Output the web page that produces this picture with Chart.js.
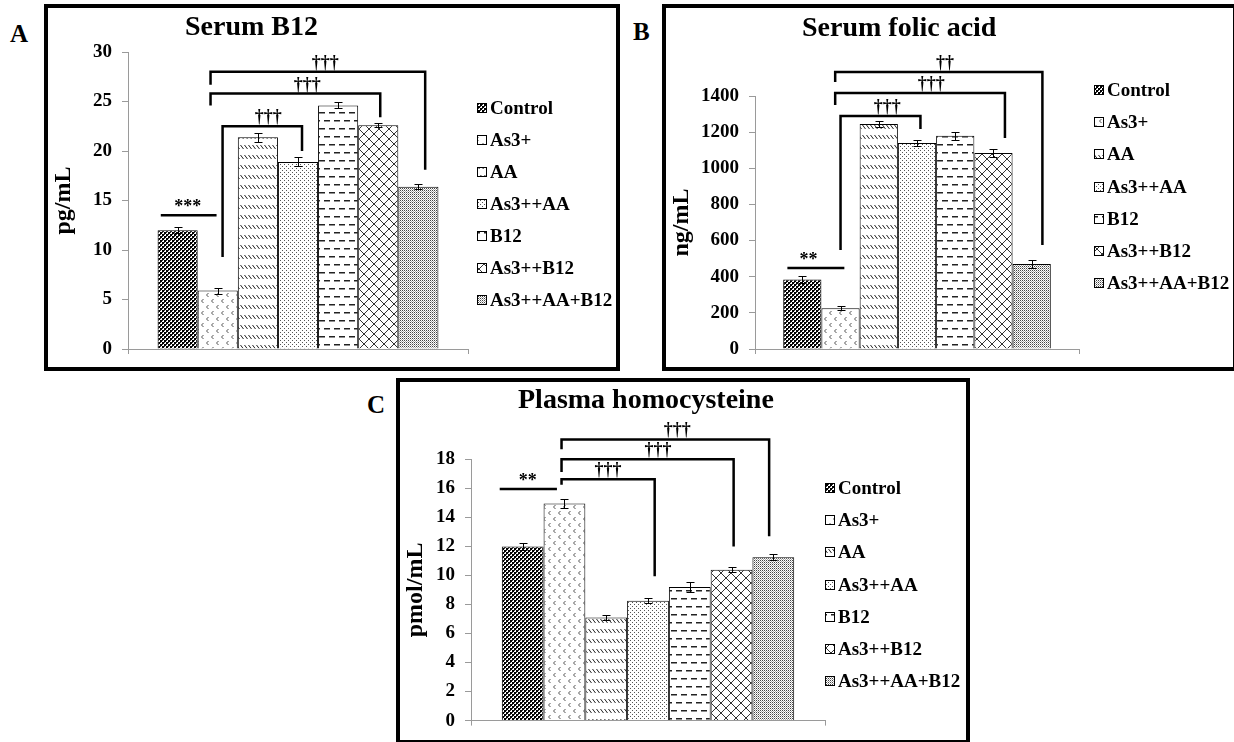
<!DOCTYPE html>
<html><head><meta charset="utf-8">
<script src="https://cdn.jsdelivr.net/npm/chart.js@4.4.0/dist/chart.umd.min.js"></script>
<style>
html,body{margin:0;padding:0;background:#fff;width:1234px;height:742px;overflow:hidden;position:relative;}
.frame{position:absolute;border:4px solid #000;box-sizing:border-box;pointer-events:none;}
.txt{position:absolute;font-family:"Liberation Serif","Times New Roman",serif;font-weight:bold;color:#000;white-space:nowrap;line-height:1;}
canvas{position:absolute;}
</style></head><body>
<canvas id="cA"></canvas><canvas id="cB"></canvas><canvas id="cC"></canvas>
<div class="frame" style="left:44px;top:4px;width:576px;height:367px"></div>
<div class="frame" style="left:662px;top:4px;width:575px;height:367px"></div>
<div class="frame" style="left:396px;top:378px;width:574px;height:366px"></div>
<div class="txt" style="left:10px;top:21px;font-size:25px">A</div>
<div class="txt" style="left:633px;top:19px;font-size:25px">B</div>
<div class="txt" style="left:367px;top:392px;font-size:25px">C</div>
<div class="txt" style="left:185px;top:12px;font-size:28px">Serum B12</div>
<div class="txt" style="left:802px;top:13px;font-size:28px">Serum folic acid</div>
<div class="txt" style="left:518px;top:385px;font-size:28px">Plasma homocysteine</div>
<script>
// ---------- data ----------
const groups = ['Control', 'As3+', 'AA', 'As3++AA', 'B12', 'As3++B12', 'As3++AA+B12'];
const b12Mean = [12.0, 5.9, 21.4, 18.9, 24.6, 22.6, 16.4];
const b12Err = [0.3, 0.3, 0.45, 0.45, 0.3, 0.2, 0.25];
const folicMean = [385, 225, 1245, 1140, 1180, 1085, 470];
const folicErr = [21, 11, 18, 14, 23, 22, 23];
const hcyMean = [12.0, 14.95, 7.1, 8.25, 9.2, 10.4, 11.25];
const hcyErr = [0.26, 0.31, 0.19, 0.17, 0.33, 0.18, 0.2];
// significance marks: positions in bar units (0 = first bar), heights in data units
const b12Notes = [
  {kind: 'line', from: -0.42, to: 0.97, at: 13.5, text: '***', textAt: 0.25},
  {kind: 'bracket', from: 1.12, fromEnd: 9.3, to: 3.1, toEnd: 20.0, top: 22.5, text: '†††', textAt: 2.26},
  {kind: 'bracket', from: 0.82, fromEnd: 24.6, to: 5.05, toEnd: 23.4, top: 25.8, text: '†††', textAt: 3.23},
  {kind: 'bracket', from: 0.82, fromEnd: 26.7, to: 6.17, toEnd: 18.1, top: 28.0, text: '†††', textAt: 3.68}
];
const folicNotes = [
  {kind: 'line', from: -0.39, to: 1.1, at: 448, text: '**', textAt: 0.16},
  {kind: 'bracket', from: 1.0, fromEnd: 548, to: 3.09, toEnd: 1217, top: 1290, text: '†††', textAt: 2.22},
  {kind: 'bracket', from: 0.86, fromEnd: 1350, to: 5.3, toEnd: 1168, top: 1417, text: '†††', textAt: 3.37},
  {kind: 'bracket', from: 0.86, fromEnd: 1478, to: 6.28, toEnd: 575, top: 1533, text: '††', textAt: 3.73}
];
const hcyNotes = [
  {kind: 'line', from: -0.55, to: 0.82, at: 15.95, text: '**', textAt: 0.12},
  {kind: 'bracket', from: 0.93, fromEnd: 16.24, to: 3.16, toEnd: 9.95, top: 16.63, text: '†††', textAt: 2.04},
  {kind: 'bracket', from: 0.93, fromEnd: 17.13, to: 5.05, toEnd: 12.0, top: 18.0, text: '†††', textAt: 3.24},
  {kind: 'bracket', from: 0.93, fromEnd: 18.7, to: 5.9, toEnd: 12.7, top: 19.37, text: '†††', textAt: 3.7}
];

// ---------- pattern tiles ----------
function tile(w, h, draw) {
  const c = document.createElement('canvas'); c.width = w; c.height = h;
  const g = c.getContext('2d'); g.fillStyle = '#fff'; g.fillRect(0, 0, w, h); draw(g); return c;
}
const tiles = [
  tile(4, 4, g => { g.fillStyle = '#000'; g.fillRect(0, 0, 2, 2); g.fillRect(2, 2, 2, 2); g.fillStyle = '#333'; g.fillRect(2, 0, 1, 1); g.fillRect(0, 2, 1, 1); }),
  tile(10, 12, g => { g.strokeStyle = '#555'; g.lineWidth = 1; g.beginPath();
    g.moveTo(4.5, 1); g.lineTo(2.5, 3); g.lineTo(4.5, 5);
    g.moveTo(9.5, 7); g.lineTo(7.5, 9); g.lineTo(9.5, 11); g.stroke(); }),
  tile(4, 10, g => { g.strokeStyle = '#222'; g.lineWidth = 1; g.beginPath(); g.moveTo(0.5, 1); g.lineTo(3.5, 5); g.stroke(); }),
  tile(4, 4, g => { g.fillStyle = '#555'; g.fillRect(0, 0, 1, 1); g.fillRect(2, 2, 1, 1); }),
  tile(10, 16, g => { g.fillStyle = '#222'; g.fillRect(0, 4, 6, 1.5); g.fillRect(5, 12, 5, 1.5); g.fillRect(0, 12, 1, 1.5); }),
  tile(10, 10, g => { g.strokeStyle = '#333'; g.lineWidth = 1; g.beginPath();
    g.moveTo(0, 0); g.lineTo(10, 10); g.moveTo(10, 0); g.lineTo(0, 10); g.stroke(); }),
  tile(2, 2, g => { g.fillStyle = '#444'; g.fillRect(0, 0, 1, 1); g.fillStyle = '#aaa'; g.fillRect(1, 1, 1, 1); })
];

const FONT = '"Liberation Serif", "Times New Roman", serif';

const extras = {
  id: 'extras',
  afterDatasetsDraw(chart, args, opts) {
    const ctx = chart.ctx, ys = chart.scales.y;
    ctx.save(); ctx.strokeStyle = '#000'; ctx.lineWidth = 1;
    chart.data.datasets.forEach((ds, i) => {
      const bar = chart.getDatasetMeta(i).data[0];
      const v = ds.data[0], e = opts.errors[i];
      const x = Math.round(bar.x) + 0.5;
      const t = Math.round(ys.getPixelForValue(v + e)) + 0.5, b = Math.round(ys.getPixelForValue(v - e)) + 0.5;
      ctx.beginPath();
      ctx.moveTo(x, t); ctx.lineTo(x, b);
      ctx.moveTo(x - 4, t); ctx.lineTo(x + 4, t);
      ctx.moveTo(x - 4, b); ctx.lineTo(x + 4, b);
      ctx.stroke();
    });
    ctx.restore();
  },
  afterDraw(chart, args, opts) {
    const ctx = chart.ctx, ys = chart.scales.y;
    const b0 = chart.getDatasetMeta(0).data[0], b1 = chart.getDatasetMeta(1).data[0];
    const px = k => b0.x + k * (b1.x - b0.x);
    const py = v => ys.getPixelForValue(v);
    ctx.save();
    ctx.strokeStyle = '#000'; ctx.lineWidth = 2.5; ctx.lineJoin = 'miter'; ctx.lineCap = 'butt';
    ctx.fillStyle = '#000'; ctx.textAlign = 'center'; ctx.textBaseline = 'alphabetic';
    ctx.font = 'bold 18px ' + FONT;
    opts.notes.forEach(n => {
      ctx.beginPath();
      if (n.kind === 'line') {
        ctx.moveTo(px(n.from), py(n.at)); ctx.lineTo(px(n.to), py(n.at)); ctx.stroke();
        ctx.fillText(n.text, px(n.textAt), py(n.at) - 3);
      } else {
        ctx.moveTo(px(n.from), py(n.fromEnd)); ctx.lineTo(px(n.from), py(n.top));
        ctx.lineTo(px(n.to), py(n.top)); ctx.lineTo(px(n.to), py(n.toEnd)); ctx.stroke();
        ctx.fillText(n.text, px(n.textAt), py(n.top) - 4);
      }
    });
    // legend
    const L = opts.legend;
    ctx.font = 'bold 19px ' + FONT; ctx.textAlign = 'left'; ctx.textBaseline = 'middle';
    chart.data.datasets.forEach((ds, i) => {
      const yy = Math.round(L.y + i * L.dy);
      ctx.fillStyle = ds.backgroundColor; ctx.fillRect(L.x - 13, yy - 5, 10, 10);
      ctx.lineWidth = 1; ctx.strokeStyle = '#000'; ctx.strokeRect(L.x - 12.5, yy - 4.5, 9, 9);
      ctx.fillStyle = '#000'; ctx.fillText(ds.label, L.x, yy + 1);
    });
    ctx.restore();
  }
};

function build(id, box, area, values, errors, notes, max, step, yTitle, legendPos) {
  const cv = document.getElementById(id);
  cv.width = box[2]; cv.height = box[3];
  cv.style.left = box[0] + 'px'; cv.style.top = box[1] + 'px';
  cv.style.width = box[2] + 'px'; cv.style.height = box[3] + 'px';
  const ctx = cv.getContext('2d');
  const yw = area[0] - box[0];
  const xh = box[1] + box[3] - area[3];
  const padTop = area[1] - box[1];
  const padRight = box[0] + box[2] - area[2];
  const datasets = groups.map((g, i) => ({
    label: g, data: [values[i]],
    backgroundColor: ctx.createPattern(tiles[i], 'repeat'),
    borderColor: '#000', borderWidth: 1,
    barPercentage: 1, categoryPercentage: 0.826
  }));
  return new Chart(ctx, {
    type: 'bar',
    data: {labels: [''], datasets},
    plugins: [extras],
    options: {
      responsive: false, animation: false, devicePixelRatio: 1,
      layout: {padding: {top: padTop, right: padRight, left: 0, bottom: 0}},
      plugins: {
        legend: {display: false}, tooltip: {enabled: false}, title: {display: false},
        extras: {errors, notes, legend: {x: legendPos[0] - box[0], y: legendPos[1] - box[1], dy: legendPos[2]}}
      },
      scales: {
        x: {
          type: 'category', offset: true,
          grid: {offset: true, drawOnChartArea: false, drawTicks: true, tickLength: 5, color: '#9a9a9a'},
          border: {color: '#9a9a9a', width: 1},
          ticks: {display: false},
          afterFit: s => { s.height = xh; }
        },
        y: {
          min: 0, max,
          ticks: {stepSize: step, color: '#000', padding: 10, font: {family: FONT, weight: 'bold', size: 19},
            callback: v => String(v)},
          grid: {drawOnChartArea: false, drawTicks: true, tickLength: 6, color: '#9a9a9a'},
          border: {color: '#9a9a9a', width: 1},
          title: {display: true, text: yTitle, color: '#000', font: {family: FONT, weight: 'bold', size: 24}, padding: {top: 5, bottom: 0}},
          afterFit: s => { s.width = yw; }
        }
      }
    }
  });
}

build('cA', [44, 4, 576, 367], [128, 52, 468, 349], b12Mean, b12Err, b12Notes, 30, 5, 'pg/mL', [490, 108, 32]);
build('cB', [662, 4, 572, 367], [755, 96, 1079, 349], folicMean, folicErr, folicNotes, 1400, 200, 'ng/mL', [1107, 90, 32.17]);
build('cC', [396, 378, 574, 364], [471, 459.3, 825, 722.3], hcyMean, hcyErr, hcyNotes, 18, 2, 'pmol/mL', [838, 488, 32.17]);
</script>
</body></html>
